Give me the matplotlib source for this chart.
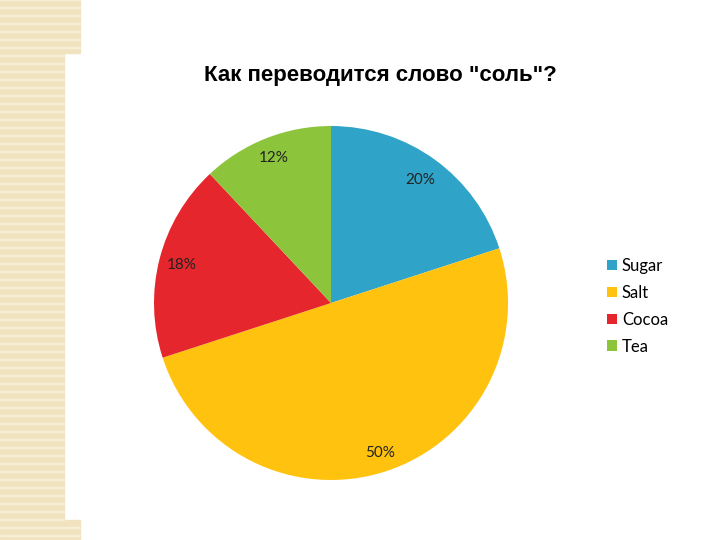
import matplotlib
matplotlib.use("Agg")
import matplotlib.pyplot as plt
from matplotlib.patches import Rectangle
import numpy as np

labels = ["Sugar", "Salt", "Cocoa", "Tea"]
shares = [20, 50, 18, 12]
colors = ["#2fa3c8", "#ffc20e", "#e5262d", "#8cc43c"]
title = 'Как переводится слово "соль"?'

fig = plt.figure(figsize=(7.2, 5.4), dpi=100)

# beige decorative strip on the left
beige = "#f1e3bf"
fig.patches.append(Rectangle((0, 0.037), 64/720, 0.865, transform=fig.transFigure, color=beige, zorder=0))
fig.patches.append(Rectangle((0, 0.902), 80/720, 0.098, transform=fig.transFigure, color=beige, zorder=0))
fig.patches.append(Rectangle((0, 0), 80/720, 0.037, transform=fig.transFigure, color=beige, zorder=0))
for y in range(0, 540, 8):
    w = 80 if (y < 53 or y > 520) else 64
    fig.patches.append(Rectangle((0, 1 - y/540), w/720, 1/540, transform=fig.transFigure,
                                 color="#f7eed6", zorder=0))

ax = fig.add_axes([154/720, 60/540, 354/720, 354/540])
wedges, texts, autotexts = ax.pie(shares, colors=colors, startangle=90, counterclock=False,
                                  autopct="%d%%", pctdistance=1.0, radius=1.0,
                                  wedgeprops=dict(linewidth=0))
for t in autotexts:
    t.set_fontsize(11)
    t.set_family("Lato")
    t.set_color("#222222")
# nudge percentages to sit near the edge like the original
dists = [0.86, 0.89, 0.87, 0.88]
for w, t, d in zip(wedges, autotexts, dists):
    ang = np.deg2rad((w.theta1 + w.theta2) / 2)
    t.set_position((d * np.cos(ang), d * np.sin(ang)))
ax.set_xlim(-1, 1)
ax.set_ylim(-1, 1)
ax.set_aspect("equal")

fig.text(380/720, 1 - 76/540, title, ha="center", va="center", fontsize=16,
         fontweight="bold", family="Liberation Sans")

fig.legend(wedges, labels, loc="upper left", bbox_to_anchor=(592/720, 1 - 243/540),
           frameon=False, prop={"family": "Lato", "size": 12}, handlelength=0.6,
           handleheight=0.6, handletextpad=0.3, labelspacing=0.65)

fig.savefig("out.png", dpi=100)
